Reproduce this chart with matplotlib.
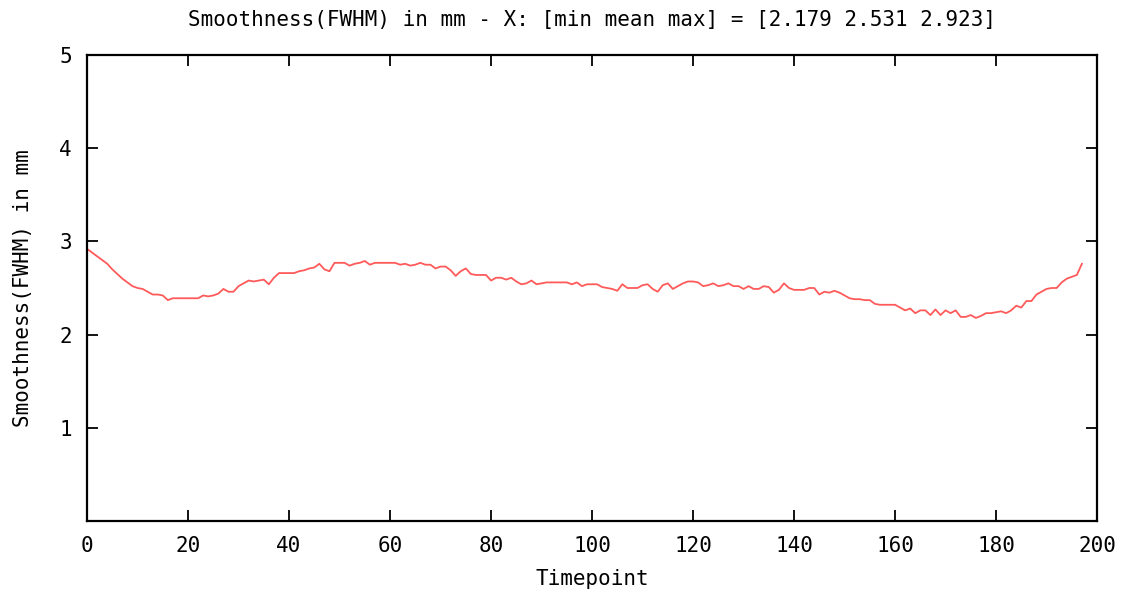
import matplotlib
matplotlib.use("Agg")
import matplotlib.pyplot as plt
import numpy as np

# smoothness (FWHM, mm) per timepoint
fwhm = [
    2.92, 2.88, 2.84, 2.80, 2.76, 2.70, 2.65, 2.60, 2.56, 2.52,
    2.50, 2.49, 2.46, 2.43, 2.43, 2.42, 2.37, 2.39, 2.39, 2.39,
    2.39, 2.39, 2.39, 2.42, 2.41, 2.42, 2.44, 2.49, 2.46, 2.46,
    2.52, 2.55, 2.58, 2.57, 2.58, 2.59, 2.54, 2.61, 2.66, 2.66,
    2.66, 2.66, 2.68, 2.69, 2.71, 2.72, 2.76, 2.70, 2.68, 2.77,
    2.77, 2.77, 2.74, 2.76, 2.77, 2.79, 2.75, 2.77, 2.77, 2.77,
    2.77, 2.77, 2.75, 2.76, 2.74, 2.75, 2.77, 2.75, 2.75, 2.71,
    2.73, 2.73, 2.69, 2.63, 2.68, 2.71, 2.65, 2.64, 2.64, 2.64,
    2.58, 2.61, 2.61, 2.59, 2.61, 2.57, 2.54, 2.55, 2.58, 2.54,
    2.55, 2.56, 2.56, 2.56, 2.56, 2.56, 2.54, 2.56, 2.52, 2.54,
    2.54, 2.54, 2.51, 2.50, 2.49, 2.47, 2.54, 2.50, 2.50, 2.50,
    2.53, 2.54, 2.49, 2.46, 2.53, 2.55, 2.49, 2.52, 2.55, 2.57,
    2.57, 2.56, 2.52, 2.53, 2.55, 2.52, 2.53, 2.55, 2.52, 2.52,
    2.49, 2.52, 2.49, 2.49, 2.52, 2.51, 2.45, 2.48, 2.55, 2.50,
    2.48, 2.48, 2.48, 2.50, 2.50, 2.43, 2.46, 2.45, 2.47, 2.45,
    2.42, 2.39, 2.38, 2.38, 2.37, 2.37, 2.33, 2.32, 2.32, 2.32,
    2.32, 2.29, 2.26, 2.28, 2.23, 2.26, 2.26, 2.21, 2.27, 2.21,
    2.26, 2.23, 2.26, 2.19, 2.19, 2.21, 2.179, 2.20, 2.23, 2.23,
    2.24, 2.25, 2.23, 2.26, 2.31, 2.29, 2.36, 2.36, 2.43, 2.46,
    2.49, 2.50, 2.50, 2.56, 2.60, 2.62, 2.64, 2.76,
]
timepoints = list(range(len(fwhm)))

x_ticks = [0, 20, 40, 60, 80, 100, 120, 140, 160, 180, 200]
y_ticks = [1, 2, 3, 4, 5]
stats = [2.179, 2.531, 2.923]

FONT = "DejaVu Sans Mono"
FS = 15

fig = plt.figure(figsize=(11.29, 5.94), dpi=100)
ax = fig.add_axes([0.0771, 0.1229, 0.8946, 0.7845])

ax.plot(timepoints, fwhm, color="#ff5a5a", lw=1.3)

ax.set_xlim(0, 200)
ax.set_ylim(0, 5)
ax.set_xticks(x_ticks)
ax.set_yticks(y_ticks)
ax.tick_params(direction="in", length=8, width=1.3, top=True, right=True,
               labelsize=FS, pad=11)
for lab in ax.get_xticklabels() + ax.get_yticklabels():
    lab.set_fontfamily(FONT)
for s in ax.spines.values():
    s.set_linewidth(1.6)

title = "Smoothness(FWHM) in mm - X: [min mean max] = [%.3f %.3f %.3f]" % tuple(stats)
ax.set_title(title, fontfamily=FONT, fontsize=FS, pad=21)
ax.set_xlabel("Timepoint", fontfamily=FONT, fontsize=FS, labelpad=9)
ax.set_ylabel("Smoothness(FWHM) in mm", fontfamily=FONT, fontsize=FS, labelpad=19)

fig.savefig("out.png", dpi=100)
